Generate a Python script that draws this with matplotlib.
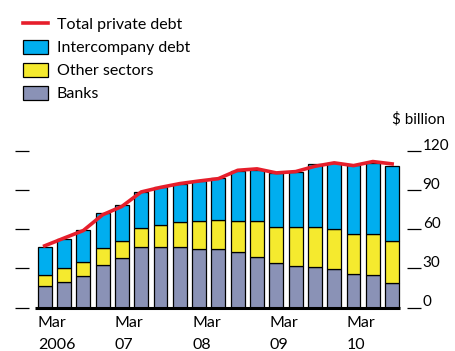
import numpy as np
import matplotlib.pyplot as plt
from matplotlib.lines import Line2D
from matplotlib.patches import Patch
import matplotlib.transforms as mtransforms

plt.rcParams['font.family'] = ['Lato', 'DejaVu Sans']

# quarterly, Mar 2006 .. Sep 2010 ($ billion)
banks = [16.8, 19.6, 24.0, 32.7, 38.3, 46.3, 46.3, 46.3, 45.2, 45.2,
         42.2, 39.1, 34.0, 31.9, 31.1, 29.8, 25.8, 25.0, 18.6]
other_sectors = [8.0, 10.5, 11.0, 13.3, 12.8, 14.8, 16.9, 18.9, 21.1, 22.1,
                 24.1, 27.2, 27.9, 30.0, 30.8, 30.3, 30.2, 31.0, 32.3]
intercompany = [21.5, 22.3, 24.4, 26.4, 27.2, 27.5, 28.9, 29.2, 30.7, 31.7,
                38.1, 39.5, 41.3, 42.1, 48.5, 50.8, 53.6, 54.9, 57.9]
total = [47.3, 53.2, 59.0, 71.1, 77.5, 88.6, 92.1, 95.0, 97.0, 98.8,
         105.2, 106.3, 103.2, 104.2, 108.3, 110.9, 108.8, 111.9, 110.1]
year_labels = ['Mar\n2006', 'Mar\n07', 'Mar\n08', 'Mar\n09', 'Mar\n10']
y_ticks = [0, 30, 60, 90, 120]

c_blue = '#00aeef'
c_yellow = '#f5ea2e'
c_banks = '#8a92b6'
c_red = '#e61e2b'

fig = plt.figure(figsize=(4.55, 3.51), dpi=100)
ax = fig.add_axes([29 / 455, (351 - 307.5) / 351, (407 - 29) / 455, 156.5 / 351])

x = np.arange(len(banks))
w = 0.72
banks = np.array(banks)
other_sectors = np.array(other_sectors)
intercompany = np.array(intercompany)
ax.bar(x, banks, w, color=c_banks, edgecolor='black', linewidth=0.9, clip_on=False)
ax.bar(x, other_sectors, w, bottom=banks, color=c_yellow, edgecolor='black', linewidth=0.9, clip_on=False)
ax.bar(x, intercompany, w, bottom=banks + other_sectors, color=c_blue, edgecolor='black',
       linewidth=0.9, clip_on=False)
ax.plot(x, total, color=c_red, lw=2.6, clip_on=False, zorder=5)
ax.hlines(0, -0.5, 18.4, color='black', lw=2.2, clip_on=False, zorder=6)

ax.set_xlim(-0.813, 18.77)
ax.set_ylim(0, 120)
for s in ax.spines.values():
    s.set_visible(False)

ax.set_yticks(y_ticks)
ax.tick_params(axis='y', left=True, right=True, labelleft=False, labelright=True,
               length=9.8, width=0.9, pad=1.5, labelsize=11)
offset = mtransforms.ScaledTranslation(0, 5 / 72, fig.dpi_scale_trans)
for lab in ax.get_yticklabels():
    lab.set_transform(lab.get_transform() + offset)

ax.set_xticks(x[::4] - w / 2)
ax.set_xticklabels(year_labels, ha='left', fontsize=11.5, linespacing=1.75)
ax.tick_params(axis='x', length=0, pad=6)

fig.text(445 / 455, 1 - 119 / 351, '$ billion', ha='right', va='center', fontsize=11)

handles = [Line2D([], [], color=c_red, lw=2.6),
           Patch(facecolor=c_blue, edgecolor='black', lw=0.9),
           Patch(facecolor=c_yellow, edgecolor='black', lw=0.9),
           Patch(facecolor=c_banks, edgecolor='black', lw=0.9)]
labels = ['Total private debt', 'Intercompany debt', 'Other sectors', 'Banks']
fig.legend(handles, labels, loc='upper left', bbox_to_anchor=(0.025, 0.985), frameon=False,
           fontsize=11.5, handlelength=1.6, handleheight=1.0, labelspacing=0.47,
           handletextpad=0.55, borderaxespad=0.3)

fig.savefig('out.png', dpi=100)
